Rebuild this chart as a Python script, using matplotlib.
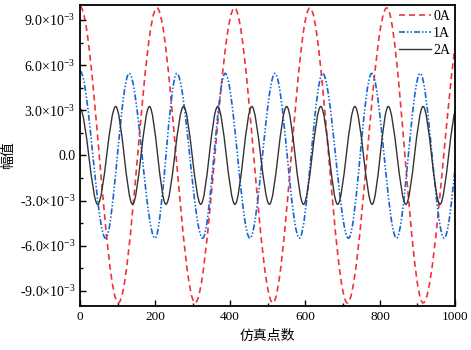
import matplotlib
matplotlib.use("Agg")
import matplotlib.pyplot as plt
import numpy as np
from matplotlib.path import Path
from matplotlib.patches import PathPatch
from matplotlib.lines import Line2D
from matplotlib.ticker import MultipleLocator

plt.rcParams['font.family'] = ['Liberation Serif', 'Noto Sans CJK SC']
plt.rcParams['mathtext.fontset'] = 'custom'
plt.rcParams['mathtext.rm'] = 'Liberation Serif'
plt.rcParams['mathtext.default'] = 'regular'

# turning points (peaks / troughs), x in simulation points, y in 1e-3
x_0A = [0, 102, 205, 307, 412, 514, 613, 713, 818, 915, 1025]
y_0A = [9.9, -9.8, 9.8, -9.8, 9.8, -9.8, 9.8, -9.8, 9.8, -9.8, 9.8]

x_1A = [0, 68, 131, 200, 258, 327, 387, 453, 520, 585, 647, 716, 778, 844, 907, 971, 1036]
y_1A = [5.6, -5.5, 5.45, -5.5, 5.45, -5.5, 5.45, -5.5, 5.45, -5.5, 5.45, -5.5, 5.45, -5.5, 5.45, -5.5, 5.45]

x_2A = [0, 47, 95, 140, 185, 229, 276, 322, 367, 413, 458, 505, 551, 596, 642, 687, 733,
        779, 822, 869, 915, 960, 1006]
y_2A = [3.1, -3.25, 3.25, -3.25, 3.25, -3.25, 3.25, -3.25, 3.25, -3.25, 3.25, -3.25, 3.25,
        -3.25, 3.25, -3.25, 3.25, -3.25, 3.25, -3.25, 3.25, -3.25, 3.25]

labels = ['0A', '1A', '2A']
colors = ['#F0323C', '#1565D8', '#333333']
styles = [(0, (3.6, 2.4)), (0, (3.6, 1.2, 0.9, 1.2, 0.9, 1.2)), '-']
widths = [1.2, 1.2, 1.0]

x_ticks = [0, 200, 400, 600, 800, 1000]
y_ticks = [-9e-3, -6e-3, -3e-3, 0, 3e-3, 6e-3, 9e-3]
y_tick_labels = ['-9.0×10$^{-3}$', '-6.0×10$^{-3}$', '-3.0×10$^{-3}$', '0.0',
                 '3.0×10$^{-3}$', '6.0×10$^{-3}$', '9.0×10$^{-3}$']


def smooth_path(xs, ys):
    # cubic bezier between turning points, flat tangent at each one
    verts = [(xs[0], ys[0])]
    codes = [Path.MOVETO]
    for i in range(1, len(xs)):
        d = (xs[i] - xs[i - 1]) / 3
        verts += [(xs[i - 1] + d, ys[i - 1]), (xs[i] - d, ys[i]), (xs[i], ys[i])]
        codes += [Path.CURVE4] * 3
    return Path(verts, codes)


fig = plt.figure(figsize=(4.71, 3.5), dpi=100)
ax = fig.add_axes([0.170, 0.126, 0.796, 0.860])

handles = []
for xs, ys, lab, c, ls, lw in zip([x_0A, x_1A, x_2A], [y_0A, y_1A, y_2A], labels, colors, styles, widths):
    p = smooth_path(np.array(xs, float), np.array(ys) * 1e-3)
    ax.add_patch(PathPatch(p, fill=False, edgecolor=c, linestyle=ls, linewidth=lw))
    handles.append(Line2D([], [], color=c, linestyle=ls, linewidth=lw, label=lab))

ax.set_xlim(0, 1000)
ax.set_ylim(-0.01, 0.01)
ax.set_xticks(x_ticks)
ax.set_yticks(y_ticks)
ax.set_yticklabels(y_tick_labels)
ax.xaxis.set_minor_locator(MultipleLocator(100))
ax.yaxis.set_minor_locator(MultipleLocator(1.5e-3))
ax.tick_params(which='both', direction='in', top=False, right=False, width=1.0)
ax.tick_params(axis='x', labelsize=9.5)
ax.tick_params(axis='y', labelsize=10)
ax.tick_params(which='major', length=4)
ax.tick_params(which='minor', length=2.5)
for s in ax.spines.values():
    s.set_linewidth(1.3)

ax.set_xlabel('仿真点数', fontsize=10, labelpad=5)
ax.set_ylabel('幅值', fontsize=10, labelpad=3)

ax.legend(handles=handles, loc='upper right', frameon=False, fontsize=10,
          handlelength=2.3, handletextpad=0.15, labelspacing=0.3,
          borderaxespad=0.0, borderpad=0.35)

fig.savefig('out.png', dpi=100)
